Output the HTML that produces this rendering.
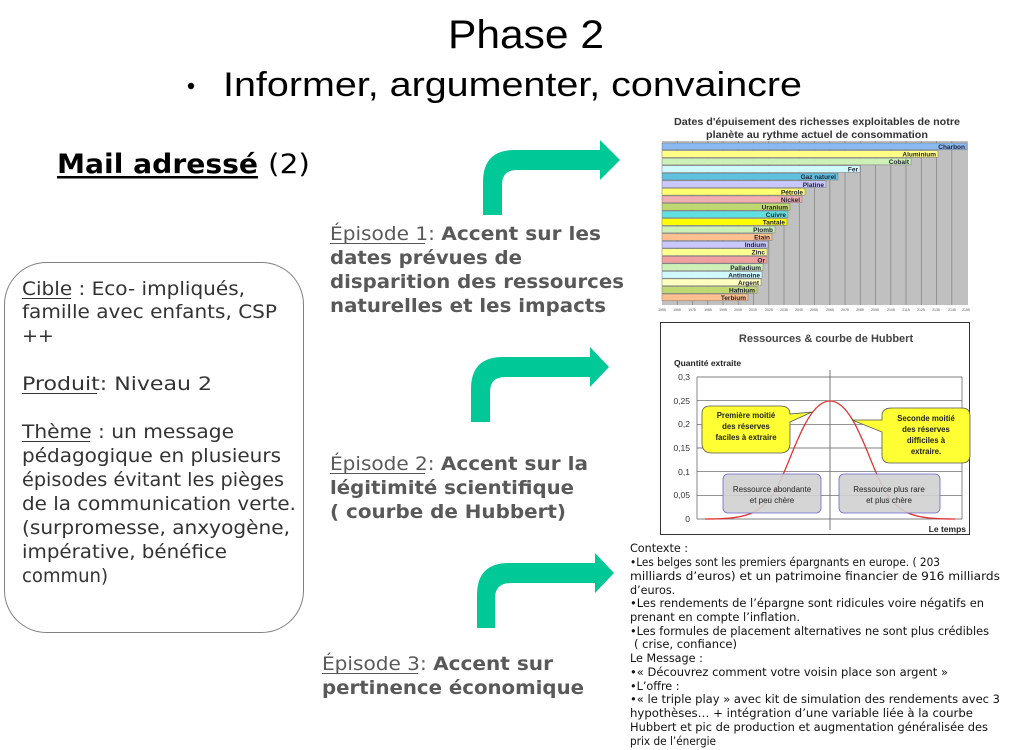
<!DOCTYPE html>
<html><head><meta charset="utf-8"><style>
html,body{margin:0;padding:0;background:#fff;}
svg{display:block;}
.v{font-family:"DejaVu Sans","Liberation Sans",sans-serif;}
</style></head><body>
<svg width="1015" height="750" viewBox="0 0 1015 750" xmlns="http://www.w3.org/2000/svg">
<text x="448" y="48" font-family="Liberation Sans, sans-serif" font-size="40" textLength="156" lengthAdjust="spacingAndGlyphs" fill="#000">Phase 2</text>
<circle cx="191" cy="86" r="3.2" fill="#000"/>
<text x="223" y="96" font-family="Liberation Sans, sans-serif" font-size="34" textLength="579" lengthAdjust="spacingAndGlyphs" fill="#000">Informer, argumenter, convaincre</text>
<g class="v" font-size="27" fill="#000">
<text x="57" y="173" font-weight="bold" textLength="201" lengthAdjust="spacingAndGlyphs">Mail adressé</text>
<rect x="57" y="176" width="201" height="2.5"/>
<text x="268" y="173" textLength="42" lengthAdjust="spacingAndGlyphs">(2)</text>
</g>

<rect x="4.5" y="262.5" width="299" height="370" rx="42" ry="42" fill="#fff" stroke="#808080" stroke-width="1"/>
<g class="v" font-size="19" fill="#333">
<text x="22" y="295" textLength="223" lengthAdjust="spacingAndGlyphs">Cible : Eco- impliqués,</text>
<rect x="22" y="298" width="49" height="1" fill="#333"/>
<text x="22" y="318" textLength="255" lengthAdjust="spacingAndGlyphs">famille avec enfants, CSP</text>
<text x="22" y="342">++</text>
<text x="22" y="390" textLength="190" lengthAdjust="spacingAndGlyphs">Produit: Niveau 2</text>
<rect x="22" y="393" width="75" height="1" fill="#333"/>
<text x="22" y="438" textLength="212" lengthAdjust="spacingAndGlyphs">Thème : un message</text>
<rect x="22" y="441" width="68" height="1" fill="#333"/>
<text x="22" y="462" textLength="259" lengthAdjust="spacingAndGlyphs">pédagogique en plusieurs</text>
<text x="22" y="486" textLength="262" lengthAdjust="spacingAndGlyphs">épisodes évitant les pièges</text>
<text x="22" y="510" textLength="274" lengthAdjust="spacingAndGlyphs">de la communication verte.</text>
<text x="22" y="534" textLength="268" lengthAdjust="spacingAndGlyphs">(surpromesse, anxyogène,</text>
<text x="22" y="558" textLength="205" lengthAdjust="spacingAndGlyphs">impérative, bénéfice</text>
<text x="22" y="582" textLength="86" lengthAdjust="spacingAndGlyphs">commun)</text>
</g>

<g fill="#00c896">
<path d="M483 215 V182 Q483 150 515 150 H600 V140 L620 160 L600 180 V170 H517 Q502 170 502 185 V215 Z"/>
<path d="M471 422 V389 Q471 357 503 357 H590 V347 L609 367 L590 387 V377 H505 Q490 377 490 392 V422 Z"/>
<path d="M477 628 V595 Q477 563 509 563 H595 V553 L614 573 L595 593 V583 H511 Q495 583 495 598 V628 Z"/>
</g>

<g class="v" font-size="19" fill="#595959">
<text x="330" y="240" textLength="271" lengthAdjust="spacingAndGlyphs">Épisode 1: <tspan font-weight="bold">Accent sur les</tspan></text>
<rect x="330" y="243" width="95" height="1"/>
<text x="330" y="264" font-weight="bold" textLength="192" lengthAdjust="spacingAndGlyphs">dates prévues de</text>
<text x="330" y="288" font-weight="bold" textLength="294" lengthAdjust="spacingAndGlyphs">disparition des ressources</text>
<text x="330" y="312" font-weight="bold" textLength="276" lengthAdjust="spacingAndGlyphs">naturelles et les impacts</text>
<text x="330" y="470" textLength="258" lengthAdjust="spacingAndGlyphs">Épisode 2: <tspan font-weight="bold">Accent sur la</tspan></text>
<rect x="330" y="473" width="95" height="1"/>
<text x="330" y="494" font-weight="bold" textLength="244" lengthAdjust="spacingAndGlyphs">légitimité scientifique</text>
<text x="330" y="518" font-weight="bold" textLength="236" lengthAdjust="spacingAndGlyphs">( courbe de Hubbert)</text>
<text x="322" y="670" textLength="231" lengthAdjust="spacingAndGlyphs">Épisode 3: <tspan font-weight="bold">Accent sur</tspan></text>
<rect x="322" y="673" width="96" height="1"/>
<text x="322" y="694" font-weight="bold" textLength="262" lengthAdjust="spacingAndGlyphs">pertinence économique</text>
</g>

<g font-family="Liberation Sans, sans-serif" font-weight="bold" fill="#333" font-size="10.5" text-anchor="middle">
<text x="817" y="125" textLength="286" lengthAdjust="spacingAndGlyphs">Dates d'épuisement des richesses exploitables de notre</text>
<text x="817" y="138" textLength="222" lengthAdjust="spacingAndGlyphs">planète au rythme actuel de consommation</text>
</g>
<rect x="662" y="141" width="306" height="164" fill="#c0c0c0"/>
<g stroke="#888" stroke-width="0.8">
<line x1="677.3" y1="141" x2="677.3" y2="305"/><line x1="692.5" y1="141" x2="692.5" y2="305"/><line x1="707.8" y1="141" x2="707.8" y2="305"/><line x1="723" y1="141" x2="723" y2="305"/><line x1="738.3" y1="141" x2="738.3" y2="305"/><line x1="753.5" y1="141" x2="753.5" y2="305"/><line x1="768.8" y1="141" x2="768.8" y2="305"/><line x1="784" y1="141" x2="784" y2="305"/><line x1="799.3" y1="141" x2="799.3" y2="305"/><line x1="814.5" y1="141" x2="814.5" y2="305"/><line x1="829.8" y1="141" x2="829.8" y2="305"/><line x1="845" y1="141" x2="845" y2="305"/><line x1="860.3" y1="141" x2="860.3" y2="305"/><line x1="875.5" y1="141" x2="875.5" y2="305"/><line x1="890.8" y1="141" x2="890.8" y2="305"/><line x1="906" y1="141" x2="906" y2="305"/><line x1="921.3" y1="141" x2="921.3" y2="305"/><line x1="936.5" y1="141" x2="936.5" y2="305"/><line x1="951.8" y1="141" x2="951.8" y2="305"/>
</g>
<g stroke="#777" stroke-width="0.5">
<rect x="662" y="143" width="305" height="6.8" fill="#8ab8f0"/>
<rect x="662" y="150.6" width="276" height="6.8" fill="#ffff88"/>
<rect x="662" y="158.1" width="249" height="6.8" fill="#ccf0b8"/>
<rect x="662" y="165.7" width="198" height="6.8" fill="#d0f8ff"/>
<rect x="662" y="173.2" width="176" height="6.8" fill="#60c0e0"/>
<rect x="662" y="180.8" width="164" height="6.8" fill="#c8c8ff"/>
<rect x="662" y="188.3" width="143" height="6.8" fill="#ffff70"/>
<rect x="662" y="195.9" width="140" height="6.8" fill="#f0b0b0"/>
<rect x="662" y="203.4" width="128" height="6.8" fill="#c0d870"/>
<rect x="662" y="211" width="126" height="6.8" fill="#60e0e0"/>
<rect x="662" y="218.5" width="125" height="6.8" fill="#ffff00"/>
<rect x="662" y="226.1" width="113" height="6.8" fill="#ccf0b8"/>
<rect x="662" y="233.6" width="110" height="6.8" fill="#ffc090"/>
<rect x="662" y="241.2" width="106" height="6.8" fill="#c8c8ff"/>
<rect x="662" y="248.7" width="105" height="6.8" fill="#ffff90"/>
<rect x="662" y="256.3" width="105" height="6.8" fill="#f0a0a0"/>
<rect x="662" y="263.8" width="101" height="6.8" fill="#ccf0b8"/>
<rect x="662" y="271.4" width="100" height="6.8" fill="#d0f8ff"/>
<rect x="662" y="278.9" width="99" height="6.8" fill="#ffffc0"/>
<rect x="662" y="286.5" width="95" height="6.8" fill="#c0d870"/>
<rect x="662" y="294" width="86" height="6.8" fill="#ffc090"/>
</g>
<g font-family="Liberation Sans, sans-serif" font-weight="bold" font-size="6.5" fill="#223" text-anchor="end">
<text x="965" y="149">Charbon</text><text x="936" y="156.6">Aluminium</text><text x="909" y="164.1">Cobalt</text><text x="858" y="171.7">Fer</text><text x="836" y="179.2">Gaz naturel</text><text x="824" y="186.8">Platine</text><text x="803" y="194.3">Pétrole</text><text x="800" y="201.9">Nickel</text><text x="788" y="209.4">Uranium</text><text x="786" y="217">Cuivre</text><text x="785" y="224.5">Tantale</text><text x="773" y="232.1">Plomb</text><text x="770" y="239.6">Etain</text><text x="766" y="247.2">Indium</text><text x="765" y="254.7">Zinc</text><text x="765" y="262.3">Or</text><text x="761" y="269.8">Palladium</text><text x="760" y="277.4">Antimoine</text><text x="759" y="284.9">Argent</text><text x="755" y="292.5">Hafnium</text><text x="746" y="300">Terbium</text>
</g>
<g font-family="Liberation Sans, sans-serif" font-size="3.5" fill="#555" text-anchor="middle">
<text x="662" y="311">1955</text><text x="677" y="311">1965</text><text x="692" y="311">1975</text><text x="708" y="311">1985</text><text x="723" y="311">1995</text><text x="738" y="311">2005</text><text x="753" y="311">2015</text><text x="769" y="311">2025</text><text x="784" y="311">2035</text><text x="799" y="311">2045</text><text x="814" y="311">2055</text><text x="830" y="311">2065</text><text x="845" y="311">2075</text><text x="860" y="311">2085</text><text x="875" y="311">2095</text><text x="891" y="311">2105</text><text x="906" y="311">2115</text><text x="921" y="311">2125</text><text x="936" y="311">2135</text><text x="952" y="311">2145</text><text x="966" y="311">2155</text>
</g>

<rect x="660.5" y="322.5" width="309" height="212" fill="#fff" stroke="#333" stroke-width="1"/>
<text x="826" y="342" font-family="Liberation Sans, sans-serif" font-weight="bold" font-size="11" fill="#444" text-anchor="middle">Ressources &amp; courbe de Hubbert</text>
<text x="674" y="366" font-family="Liberation Sans, sans-serif" font-weight="bold" font-size="8.5" fill="#222">Quantité extraite</text>
<g stroke="#555" stroke-width="0.7">
<line x1="697" y1="377" x2="962" y2="377"/><line x1="697" y1="400.7" x2="962" y2="400.7"/><line x1="697" y1="424.3" x2="962" y2="424.3"/><line x1="697" y1="448" x2="962" y2="448"/><line x1="697" y1="471.7" x2="962" y2="471.7"/><line x1="697" y1="495.3" x2="962" y2="495.3"/><line x1="697" y1="519" x2="962" y2="519"/>
<line x1="697" y1="377" x2="697" y2="519"/><line x1="962" y1="377" x2="962" y2="519"/>
<line x1="830" y1="370" x2="830" y2="530" stroke="#777" stroke-width="1"/>
</g>
<g font-family="Liberation Sans, sans-serif" font-size="8.5" fill="#333" text-anchor="end">
<text x="690" y="380">0,3</text><text x="690" y="404">0,25</text><text x="690" y="427">0,2</text><text x="690" y="451">0,15</text><text x="690" y="475">0,1</text><text x="690" y="498">0,05</text><text x="690" y="522">0</text>
</g>
<text x="966" y="532" font-family="Liberation Sans, sans-serif" font-size="8.5" font-weight="bold" fill="#222" text-anchor="end">Le temps</text>
<path fill="none" stroke="#e03030" stroke-width="1.3" d="M705 519 C745 519 760 515 775 491 C790 467 805 401 830 401 C855 401 870 467 885 491 C900 515 915 519 955 519"/>
<path d="M710 406 H780 Q790 406 790 414 L812 412 L790 422 V443 Q790 453 780 453 H712 Q702 453 702 443 V414 Q702 406 710 406 Z" fill="#ffff33" stroke="#555" stroke-width="0.8"/>
<path d="M892 408 H962 Q970 408 970 416 V455 Q970 463 962 463 H890 Q882 463 882 455 V432 L852 420 L882 420 V416 Q882 408 892 408 Z" fill="#ffff33" stroke="#555" stroke-width="0.8"/>
<g font-family="Liberation Sans, sans-serif" font-weight="bold" font-size="7.8" fill="#222" text-anchor="middle">
<text x="746" y="418">Première moitié</text><text x="746" y="429">des réserves</text><text x="746" y="440">faciles à extraire</text>
<text x="926" y="421">Seconde moitié</text><text x="926" y="432">des réserves</text><text x="926" y="443">difficiles à</text><text x="926" y="454">extraire.</text>
</g>
<rect x="723" y="474" width="98" height="39" rx="5" fill="#d0d0d0" fill-opacity="0.9" stroke="#6666cc" stroke-width="0.8"/>
<rect x="839" y="474" width="101" height="39" rx="5" fill="#d0d0d0" fill-opacity="0.9" stroke="#6666cc" stroke-width="0.8"/>
<g font-family="Liberation Sans, sans-serif" font-size="8" fill="#222" text-anchor="middle">
<text x="772" y="492">Ressource abondante</text><text x="772" y="503">et peu chère</text>
<text x="889" y="492">Ressource plus rare</text><text x="889" y="503">et plus chère</text>
</g>

<g class="v" font-size="11.2" fill="#111">
<text x="630" y="552">Contexte :</text>
<text x="630" y="566" textLength="310" lengthAdjust="spacingAndGlyphs">•Les belges sont les premiers épargnants en europe. ( 203</text>
<text x="630" y="580" textLength="370" lengthAdjust="spacingAndGlyphs">milliards d’euros) et un patrimoine financier de 916 milliards</text>
<text x="630" y="594">d’euros.</text>
<text x="630" y="607" textLength="354" lengthAdjust="spacingAndGlyphs">•Les rendements de l’épargne sont ridicules voire négatifs en</text>
<text x="630" y="621" textLength="170" lengthAdjust="spacingAndGlyphs">prenant en compte l’inflation.</text>
<text x="630" y="635" textLength="359" lengthAdjust="spacingAndGlyphs">•Les formules de placement alternatives ne sont plus crédibles</text>
<text x="634" y="648" textLength="103" lengthAdjust="spacingAndGlyphs">( crise, confiance)</text>
<text x="630" y="662">Le Message :</text>
<text x="630" y="676" textLength="318" lengthAdjust="spacingAndGlyphs">•« Découvrez comment votre voisin place son argent »</text>
<text x="630" y="690">•L’offre :</text>
<text x="630" y="703" textLength="370" lengthAdjust="spacingAndGlyphs">•« le triple play » avec kit de simulation des rendements avec 3</text>
<text x="630" y="717" textLength="343" lengthAdjust="spacingAndGlyphs">hypothèses… + intégration d’une variable liée à la courbe</text>
<text x="630" y="731" textLength="358" lengthAdjust="spacingAndGlyphs">Hubbert et pic de production et augmentation généralisée des</text>
<text x="630" y="745" textLength="86" lengthAdjust="spacingAndGlyphs">prix de l’énergie</text>
</g>
</svg>
</body></html>
